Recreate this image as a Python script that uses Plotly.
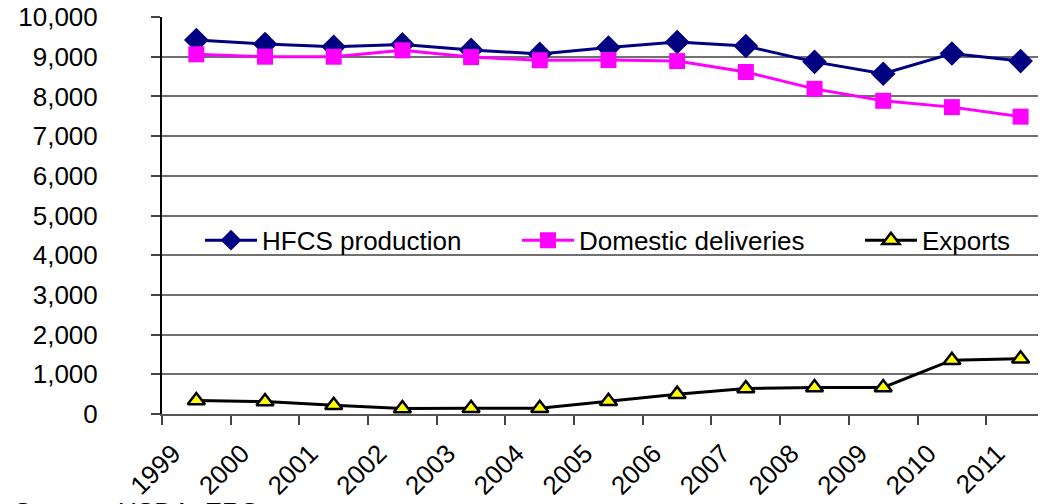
import plotly.graph_objects as go

years = ["1999", "2000", "2001", "2002", "2003", "2004", "2005",
         "2006", "2007", "2008", "2009", "2010", "2011"]
hfcs_production = [9420, 9320, 9250, 9310, 9170, 9070, 9230,
                   9370, 9270, 8870, 8570, 9080, 8890]
domestic_deliveries = [9060, 9000, 9000, 9160, 8990, 8910, 8915,
                       8890, 8615, 8190, 7890, 7730, 7490]
exports = [340, 313, 220, 136, 144, 144, 322,
           500, 644, 669, 669, 1355, 1390]
y_ticks = [0, 1000, 2000, 3000, 4000, 5000, 6000, 7000, 8000, 9000, 10000]

FONT = "Liberation Sans"
NB = "\u00a0"
idx = list(range(len(years)))

fig = go.Figure()
fig.add_trace(go.Scatter(
    x=idx, y=hfcs_production, name="HFCS production" + NB * 7, mode="lines+markers",
    line=dict(color="#000080", width=3),
    marker=dict(symbol="diamond", size=19, color="#000080"),
    cliponaxis=False))
fig.add_trace(go.Scatter(
    x=idx, y=domestic_deliveries, name="Domestic deliveries" + NB * 7, mode="lines+markers",
    line=dict(color="#FF00FF", width=3),
    marker=dict(symbol="square", size=16, color="#FF00FF"),
    cliponaxis=False))
fig.add_trace(go.Scatter(
    x=idx, y=exports, name="Exports", mode="lines+markers",
    line=dict(color="#000000", width=3),
    marker=dict(symbol="triangle-up", size=15, color="#FFFF00",
                line=dict(color="#000000", width=2.5)),
    cliponaxis=False))

# the page body adds an 8px offset, so the figure is sized to fit the window
fig.update_layout(
    width=1038, height=496,
    margin=dict(l=154, r=0, t=9, b=90, autoexpand=False),
    paper_bgcolor="white", plot_bgcolor="white",
    font=dict(family=FONT, size=26, color="black"),
    showlegend=True,
    legend=dict(orientation="h", x=0.043, xanchor="left", y=0.4375, yanchor="middle",
                bgcolor="rgba(0,0,0,0)", font=dict(family=FONT, size=26),
                itemwidth=52, tracegroupgap=0),
    xaxis=dict(
        range=[-0.5, 12.37], showgrid=False, zeroline=False, automargin=False,
        tickmode="array", tickvals=[i - 0.34 for i in idx], ticktext=years,
        tickangle=-45, ticks="", ticklabelstandoff=12,
        showline=True, linecolor="#555555", linewidth=2,
        tickfont=dict(family=FONT, size=26), ticklabeloverflow="allow",
        minor=dict(tickmode="linear", tick0=-0.5, dtick=1, ticks="outside",
                   ticklen=9, tickwidth=1.5, tickcolor="#444444", showgrid=False)),
    yaxis=dict(
        range=[0, 10000], tickmode="array", tickvals=y_ticks, automargin=False,
        tickformat=",", showgrid=True, gridcolor="#707070", gridwidth=1.5,
        zeroline=False, showline=True, linecolor="#000000", linewidth=2,
        ticks="outside", ticklen=9, tickcolor="#444444", tickwidth=1.5,
        ticklabelstandoff=48, tickfont=dict(family=FONT, size=26),
        ticklabeloverflow="allow"),
    annotations=[dict(text="Source:  USDA, ERS", xref="paper", yref="paper",
                      x=-150/884, y=-0.205, xanchor="left", yanchor="top",
                      showarrow=False, font=dict(family=FONT, size=26))],
)

fig.write_html("out.html")
